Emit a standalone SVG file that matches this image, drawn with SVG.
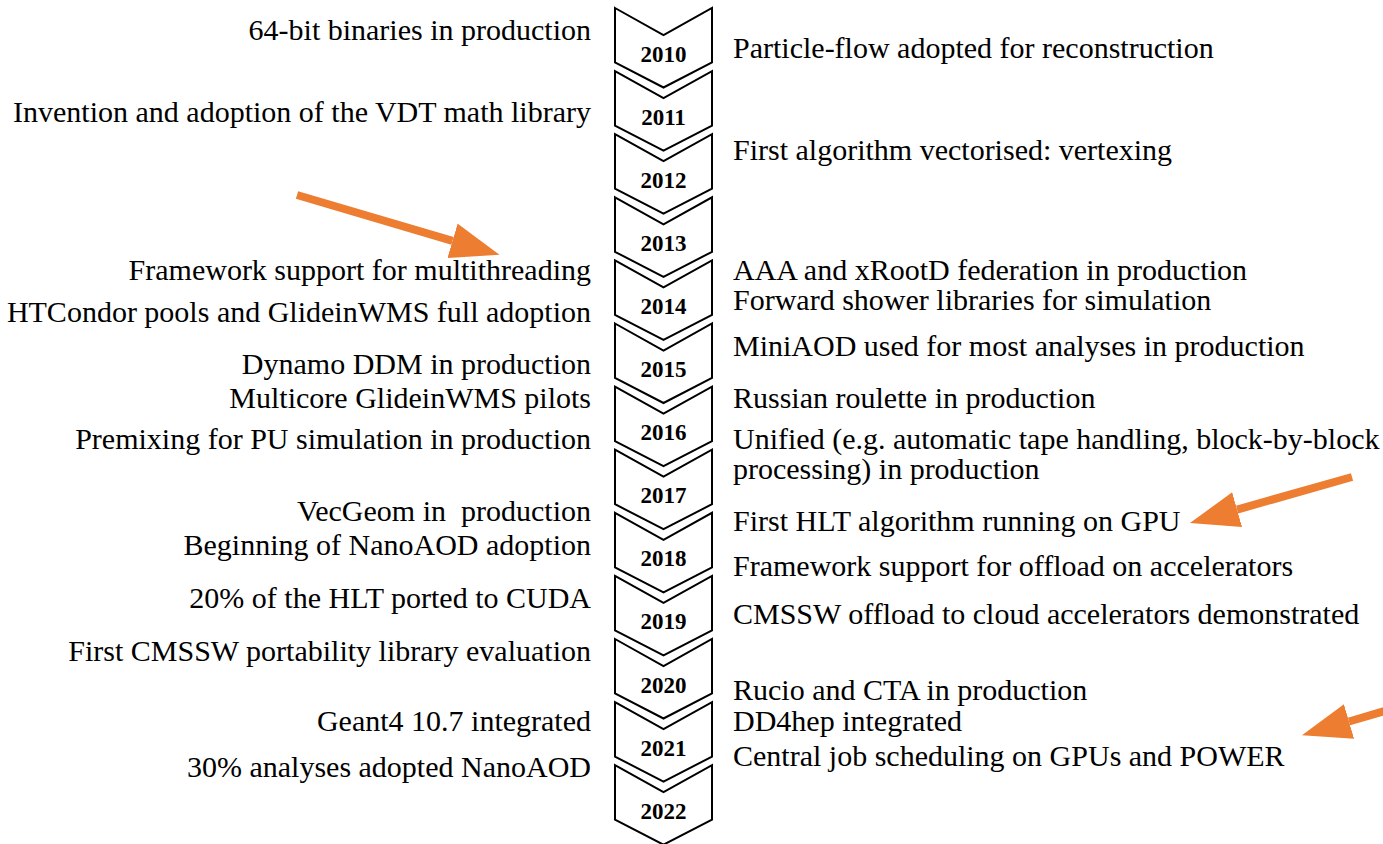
<svg xmlns="http://www.w3.org/2000/svg" xmlns:xlink="http://www.w3.org/1999/xlink" width="1383" height="844" viewBox="0 0 1383 844">
  <style>
    .chev { fill: #ffffff; stroke: #000000; stroke-width: 2; stroke-linejoin: miter; }
    .year { font-family: "Liberation Serif", "Times New Roman", serif; font-size: 23px; font-weight: bold; text-anchor: middle; fill: #000; }
    .lbl { font-family: "Liberation Serif", "Times New Roman", serif; font-size: 30px; fill: #000; white-space: pre; }
    .left { text-anchor: end; }
    .right { text-anchor: start; }
    .pointer { stroke: #ED7D31; stroke-width: 8; fill: none; marker-end: url(#head); }
  </style>
  <defs>
    <!-- one chevron step, top edge at y=0 -->
    <path id="chev" class="chev" d="M615,0 L663.5,27 L712,0 L712,54.5 L663.5,79.5 L615,54.5 Z"/>
    <marker id="head" markerUnits="userSpaceOnUse" viewBox="0 0 49 36" markerWidth="49" markerHeight="36" refX="0" refY="18" orient="auto">
      <path d="M0,0 L49,18 L0,36 Z" fill="#ED7D31"/>
    </marker>
  </defs>

  <rect width="1383" height="844" fill="#ffffff"/>

  <!-- timeline steps -->
  <g id="year-2010" transform="translate(0,8)"><use xlink:href="#chev"/><text class="year" x="663.5" y="53.5">2010</text></g>
  <g id="year-2011" transform="translate(0,71.1)"><use xlink:href="#chev"/><text class="year" x="663.5" y="53.5">2011</text></g>
  <g id="year-2012" transform="translate(0,134.2)"><use xlink:href="#chev"/><text class="year" x="663.5" y="53.5">2012</text></g>
  <g id="year-2013" transform="translate(0,197.3)"><use xlink:href="#chev"/><text class="year" x="663.5" y="53.5">2013</text></g>
  <g id="year-2014" transform="translate(0,260.4)"><use xlink:href="#chev"/><text class="year" x="663.5" y="53.5">2014</text></g>
  <g id="year-2015" transform="translate(0,323.5)"><use xlink:href="#chev"/><text class="year" x="663.5" y="53.5">2015</text></g>
  <g id="year-2016" transform="translate(0,386.6)"><use xlink:href="#chev"/><text class="year" x="663.5" y="53.5">2016</text></g>
  <g id="year-2017" transform="translate(0,449.7)"><use xlink:href="#chev"/><text class="year" x="663.5" y="53.5">2017</text></g>
  <g id="year-2018" transform="translate(0,512.8)"><use xlink:href="#chev"/><text class="year" x="663.5" y="53.5">2018</text></g>
  <g id="year-2019" transform="translate(0,575.9)"><use xlink:href="#chev"/><text class="year" x="663.5" y="53.5">2019</text></g>
  <g id="year-2020" transform="translate(0,639)"><use xlink:href="#chev"/><text class="year" x="663.5" y="53.5">2020</text></g>
  <g id="year-2021" transform="translate(0,702.1)"><use xlink:href="#chev"/><text class="year" x="663.5" y="53.5">2021</text></g>
  <g id="year-2022" transform="translate(0,765.2)"><use xlink:href="#chev"/><text class="year" x="663.5" y="53.5">2022</text></g>

  <!-- milestones, left column -->
  <g id="milestones-left" class="lbl left">
    <text x="591" y="40">64-bit binaries in production</text>
    <text x="591" y="122">Invention and adoption of the VDT math library</text>
    <text x="591" y="280">Framework support for multithreading</text>
    <text x="591" y="322">HTCondor pools and GlideinWMS full adoption</text>
    <text x="591" y="374">Dynamo DDM in production</text>
    <text x="591" y="408">Multicore GlideinWMS pilots</text>
    <text x="591" y="449">Premixing for PU simulation in production</text>
    <text x="591" y="521" xml:space="preserve">VecGeom in  production</text>
    <text x="591" y="555">Beginning of NanoAOD adoption</text>
    <text x="591" y="608">20% of the HLT ported to CUDA</text>
    <text x="591" y="661">First CMSSW portability library evaluation</text>
    <text x="591" y="731">Geant4 10.7 integrated</text>
    <text x="591" y="777">30% analyses adopted NanoAOD</text>
  </g>

  <!-- milestones, right column -->
  <g id="milestones-right" class="lbl right">
    <text x="733" y="58">Particle-flow adopted for reconstruction</text>
    <text x="733" y="160">First algorithm vectorised: vertexing</text>
    <text x="733" y="279.5">AAA and xRootD federation in production</text>
    <text x="733" y="309.5">Forward shower libraries for simulation</text>
    <text x="733" y="356">MiniAOD used for most analyses in production</text>
    <text x="733" y="408">Russian roulette in production</text>
    <text x="733" y="449">Unified (e.g. automatic tape handling, block-by-block</text>
    <text x="733" y="479">processing) in production</text>
    <text x="733" y="531">First HLT algorithm running on GPU</text>
    <text x="733" y="576">Framework support for offload on accelerators</text>
    <text x="733" y="624">CMSSW offload to cloud accelerators demonstrated</text>
    <text x="733" y="700">Rucio and CTA in production</text>
    <text x="733" y="731">DD4hep integrated</text>
    <text x="733" y="766">Central job scheduling on GPUs and POWER</text>
  </g>

  <!-- highlight arrows -->
  <g id="connectors">
    <line class="pointer" x1="297" y1="195" x2="452.5" y2="240.9"/>
    <line class="pointer" x1="1352" y1="477" x2="1237.1" y2="509.6"/>
    <line class="pointer" x1="1400" y1="706.5" x2="1349" y2="721.5"/>
  </g>
</svg>
